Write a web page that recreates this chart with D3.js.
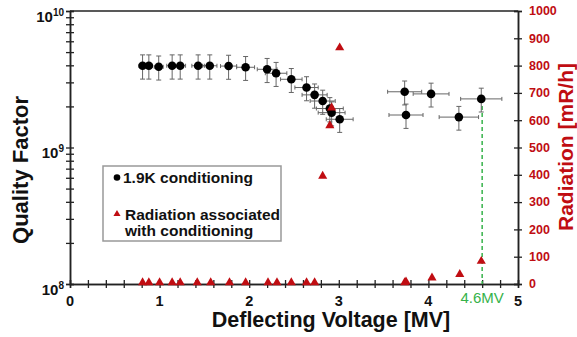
<!DOCTYPE html>
<html>
<head>
<meta charset="utf-8">
<script src="https://cdn.jsdelivr.net/npm/d3@7"></script>
<style>
  body { margin: 0; background: #fff; }
  svg { font-family: "Liberation Sans", Arial, sans-serif; }
</style>
</head>
<body>
<div id="wrapper"></div>
<script>
// quality factor measured at 1.9K
const voltage = [0.81, 0.88, 0.99, 1.14, 1.23, 1.43, 1.56, 1.77, 1.96, 2.20, 2.30, 2.47, 2.64, 2.73, 2.82, 2.90, 2.92, 3.01, 3.735, 3.75, 4.03, 4.34, 4.59]
const qFactor = [3.97e9, 3.97e9, 3.9e9, 3.97e9, 3.97e9, 3.97e9, 3.97e9, 3.95e9, 3.87e9, 3.74e9, 3.5e9, 3.16e9, 2.75e9, 2.43e9, 2.19e9, 1.93e9, 1.8e9, 1.61e9, 2.56e9, 1.73e9, 2.47e9, 1.67e9, 2.27e9]
const qErr = [0.8e9, 0.8e9, 0.78e9, 0.8e9, 0.8e9, 0.8e9, 0.8e9, 0.79e9, 0.77e9, 0.75e9, 0.7e9, 0.63e9, 0.55e9, 0.49e9, 0.44e9, 0.39e9, 0.36e9, 0.32e9, 0.51e9, 0.35e9, 0.49e9, 0.33e9, 0.45e9]
const vErr = [0.04, 0.04, 0.05, 0.06, 0.06, 0.07, 0.08, 0.09, 0.1, 0.11, 0.12, 0.12, 0.13, 0.14, 0.14, 0.15, 0.15, 0.15, 0.19, 0.19, 0.2, 0.22, 0.23]

// radiation while conditioning
const radVoltage = [0.81, 0.88, 1.0, 1.14, 1.23, 1.42, 1.57, 1.78, 1.96, 2.21, 2.31, 2.47, 2.64, 2.73, 2.82, 2.90, 2.92, 3.01, 3.735, 3.75, 4.04, 4.35, 4.59]
const radiation = [0, 0, 0, 0, 0, 0, 0, 0, 0, 0, 0, 0, 0, 0, 390, 575, 640, 860, 0, 3, 17, 30, 78]

const markerVoltage = 4.6
const markerLabel = "4.6MV"
const qDomain = [1e8, 1e10]
const radDomain = [0, 1000]
const voltDomain = [0, 5]

const red = "#c00d12"
const green = "#36b24a"

const dimensions = {
  width: 577,
  height: 337,
  margin: { top: 11, right: 59, bottom: 53, left: 70 },
}
dimensions.boundedWidth = dimensions.width - dimensions.margin.left - dimensions.margin.right
dimensions.boundedHeight = dimensions.height - dimensions.margin.top - dimensions.margin.bottom

const svg = d3.select("#wrapper").append("svg")
  .attr("width", dimensions.width)
  .attr("height", dimensions.height)

const bounds = svg.append("g")
  .attr("transform", `translate(${dimensions.margin.left},${dimensions.margin.top})`)

const xScale = d3.scaleLinear().domain(voltDomain).range([0, dimensions.boundedWidth])
const yScale = d3.scaleLog().domain(qDomain).range([dimensions.boundedHeight, 0])
const rScale = d3.scaleLinear().domain(radDomain).range([dimensions.boundedHeight, 0])

const W = dimensions.boundedWidth, H = dimensions.boundedHeight

// frame top line
bounds.append("line").attr("x1", 0).attr("x2", W).attr("y1", 0).attr("y2", 0)
  .attr("stroke", "#222").attr("stroke-width", 1.5)

// x axis: crossing ticks every 0.2, labels on integers
const xMinor = d3.range(0, 51, 2).map(d => d / 10)
const xAxisG = bounds.append("g").attr("transform", `translate(0,${H})`)
xAxisG.call(d3.axisBottom(xScale).tickValues(xMinor).tickSize(4).tickFormat(""))
xAxisG.append("g").call(d3.axisTop(xScale).tickValues(xMinor).tickSize(4).tickFormat(""))
xAxisG.selectAll(".domain").attr("stroke", "#222").attr("stroke-width", 1.5)
xAxisG.selectAll(".tick line").attr("stroke", "#222").attr("stroke-width", 1.3)
xAxisG.selectAll(".xlab").data(xScale.ticks(5)).enter().append("text")
  .attr("x", d => xScale(d)).attr("y", 22)
  .attr("text-anchor", "middle")
  .attr("font-size", 14.5).attr("font-weight", "bold").attr("fill", "#111")
  .text(d => d)

// left log axis
const yAxisG = bounds.append("g")
yAxisG.call(d3.axisLeft(yScale).tickSize(4).tickFormat(""))
yAxisG.append("g").call(d3.axisRight(yScale).tickSize(4).tickFormat(""))
yAxisG.selectAll(".domain").attr("stroke", "#222").attr("stroke-width", 1.5)
yAxisG.selectAll(".tick line").attr("stroke", "#222").attr("stroke-width", 1.3)
const decades = yScale.ticks().filter(d => Math.abs(Math.log10(d) - Math.round(Math.log10(d))) < 1e-9)
const yLab = yAxisG.selectAll(".ylab").data(decades).enter().append("text")
  .attr("x", -6).attr("y", d => yScale(d) + 10.5)
  .attr("text-anchor", "end").attr("font-weight", "bold").attr("fill", "#111")
yLab.append("tspan").attr("font-size", 15).text("10")
yLab.append("tspan").attr("font-size", 10).attr("dy", -6).text(d => Math.round(Math.log10(d)))

// right radiation axis
const rAxisG = bounds.append("g").attr("transform", `translate(${W},0)`)
rAxisG.call(d3.axisRight(rScale).ticks(10).tickSize(4).tickFormat(""))
rAxisG.append("g").call(d3.axisLeft(rScale).ticks(10).tickSize(4).tickFormat(""))
rAxisG.selectAll(".domain").attr("stroke", "#222").attr("stroke-width", 1.5)
rAxisG.selectAll(".tick line").attr("stroke", "#222").attr("stroke-width", 1.3)
rAxisG.selectAll(".rlab").data(rScale.ticks(10)).enter().append("text")
  .attr("x", 11).attr("y", d => rScale(d)).attr("dy", "0.35em")
  .attr("font-size", 12.5).attr("font-weight", "bold").attr("fill", red)
  .text(d => d)

// green marker line
const markerIdx = voltage.length - 1
bounds.append("line")
  .attr("x1", xScale(markerVoltage)).attr("x2", xScale(markerVoltage))
  .attr("y1", yScale(qFactor[markerIdx])).attr("y2", H)
  .attr("stroke", green).attr("stroke-width", 1.5).attr("stroke-dasharray", "4,3")
bounds.append("text")
  .attr("x", xScale(markerVoltage)).attr("y", H + 19)
  .attr("text-anchor", "middle").attr("font-size", 15).attr("fill", green)
  .text(markerLabel)

// error bars
const qData = voltage.map((v, i) => ({ v, q: qFactor[i], qe: qErr[i], ve: vErr[i] }))
const errG = bounds.append("g").attr("stroke", "#666").attr("stroke-width", 1)
qData.forEach(d => {
  const cx = xScale(d.v), cy = yScale(d.q)
  const yTop = yScale(d.q + d.qe), yBot = yScale(d.q - d.qe)
  const xL = xScale(d.v - d.ve), xR = xScale(d.v + d.ve)
  errG.append("line").attr("x1", cx).attr("x2", cx).attr("y1", yTop).attr("y2", yBot)
  errG.append("line").attr("x1", cx - 2.5).attr("x2", cx + 2.5).attr("y1", yTop).attr("y2", yTop)
  errG.append("line").attr("x1", cx - 2.5).attr("x2", cx + 2.5).attr("y1", yBot).attr("y2", yBot)
  errG.append("line").attr("x1", xL).attr("x2", xR).attr("y1", cy).attr("y2", cy)
  errG.append("line").attr("x1", xL).attr("x2", xL).attr("y1", cy - 2).attr("y2", cy + 2)
  errG.append("line").attr("x1", xR).attr("x2", xR).attr("y1", cy - 2).attr("y2", cy + 2)
})

// black points
bounds.append("g").selectAll("circle").data(qData).enter().append("circle")
  .attr("cx", d => xScale(d.v)).attr("cy", d => yScale(d.q)).attr("r", 4.3)
  .attr("fill", "#000")

// red triangles
const tri = d3.symbol().type(d3.symbolTriangle).size(36)
bounds.append("g").selectAll("path").data(radVoltage.map((v, i) => ({ v, r: radiation[i] }))).enter()
  .append("path")
  .attr("d", tri)
  .attr("transform", d => `translate(${xScale(d.v)},${rScale(d.r) - 1.5})`)
  .attr("fill", red)

// axis titles
svg.append("text")
  .attr("x", 331).attr("y", 327)
  .attr("text-anchor", "middle").attr("font-size", 21.5).attr("font-weight", "bold").attr("fill", "#111")
  .text("Deflecting Voltage [MV]")
svg.append("text")
  .attr("transform", "translate(28,170) rotate(-90)")
  .attr("text-anchor", "middle").attr("font-size", 22).attr("font-weight", "bold").attr("fill", "#111")
  .text("Quality Factor")
svg.append("text")
  .attr("transform", "translate(573,147) rotate(-90)")
  .attr("text-anchor", "middle").attr("font-size", 21).attr("font-weight", "bold").attr("fill", red)
  .text("Radiation [mR/h]")

// legend
const legend = svg.append("g")
legend.append("rect")
  .attr("x", 103).attr("y", 166).attr("width", 178).attr("height", 75)
  .attr("fill", "#fff").attr("stroke", "#999").attr("stroke-width", 1.5)
legend.append("circle").attr("cx", 117).attr("cy", 177.5).attr("r", 3.3).attr("fill", "#000")
legend.append("text").attr("x", 123).attr("y", 182.5)
  .attr("font-size", 15.5).attr("font-weight", "bold").attr("fill", "#111")
  .text("1.9K conditioning")
legend.append("path").attr("d", d3.symbol().type(d3.symbolTriangle).size(22))
  .attr("transform", "translate(117,214)").attr("fill", red)
legend.append("text").attr("x", 125).attr("y", 219.5)
  .attr("font-size", 15.5).attr("font-weight", "bold").attr("fill", "#111")
  .text("Radiation associated")
legend.append("text").attr("x", 125).attr("y", 235.5)
  .attr("font-size", 15.5).attr("font-weight", "bold").attr("fill", "#111")
  .text("with conditioning")
</script>
</body>
</html>
